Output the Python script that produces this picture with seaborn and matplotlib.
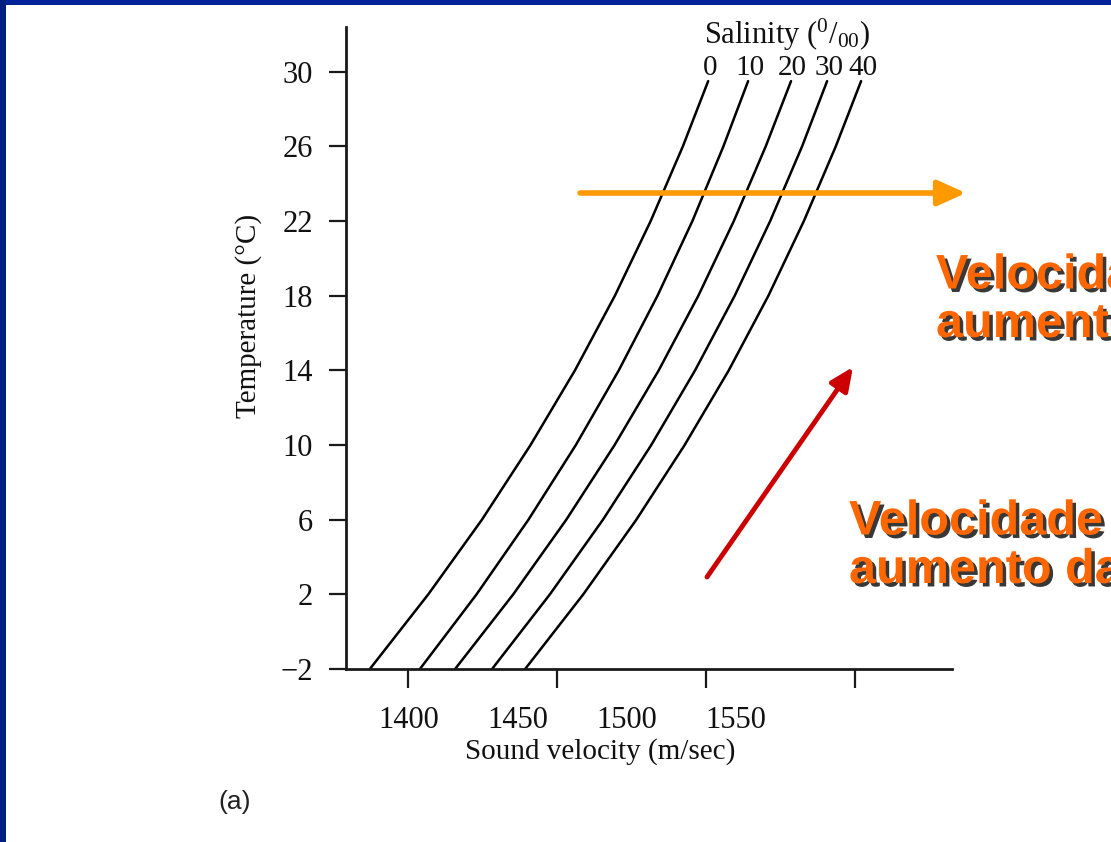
import matplotlib
matplotlib.use("Agg")
import matplotlib.pyplot as plt
import matplotlib.patheffects as pe
from matplotlib.patches import Rectangle, FancyArrowPatch
import pandas as pd
import seaborn as sns

# temperature (deg C) at which each curve was read
temps = [-2, 2, 6, 10, 14, 18, 22, 26, 29.5]

# sound velocity (m/sec)
vel_s0 = [1387.2, 1406.8, 1424.8, 1441.1, 1456.0, 1469.4, 1481.4, 1492.2, 1500.7]
vel_s10 = [1404.0, 1423.0, 1440.4, 1456.3, 1470.7, 1483.7, 1495.4, 1505.8, 1514.1]
vel_s20 = [1415.8, 1435.3, 1453.1, 1469.3, 1484.1, 1497.4, 1509.3, 1520.0, 1528.5]
vel_s30 = [1428.2, 1447.6, 1465.4, 1481.6, 1496.3, 1509.6, 1521.5, 1532.2, 1540.6]
vel_s40 = [1439.3, 1458.8, 1476.6, 1492.8, 1507.6, 1520.9, 1532.8, 1543.5, 1552.0]

salinities = [0, 10, 20, 30, 40]
yticks = [30, 26, 22, 18, 14, 10, 6, 2, -2]
ytick_labels = ["30", "26", "22", "18", "14", "10", "6", "2", "\u22122"]
xticks = [1400, 1450, 1500, 1550]
xtick_labels = ["1400", "1450", "1500", "1550"]

rows = []
for s, vals in zip(salinities, [vel_s0, vel_s10, vel_s20, vel_s30, vel_s40]):
    for t, v in zip(temps, vals):
        rows.append({"salinity": s, "temp": t, "velocity": v})
df = pd.DataFrame(rows)

sns.set_style("white")
plt.rcParams["font.family"] = ["Liberation Serif", "DejaVu Serif"]
plt.rcParams["mathtext.fontset"] = "custom"
plt.rcParams["mathtext.rm"] = "Liberation Serif"

fig = plt.figure(figsize=(11.11, 8.42), dpi=100)
fig.patch.set_facecolor("white")

# slide border
fig.patches.append(Rectangle((0, 1 - 5 / 842), 1, 5 / 842, transform=fig.transFigure,
                             facecolor="#00239a", edgecolor="none", zorder=0))
fig.patches.append(Rectangle((0, 0), 6 / 1111, 1, transform=fig.transFigure,
                             facecolor="#001e80", edgecolor="none", zorder=0))

ax = fig.add_axes([346 / 1111, 1 - 669 / 842, (952 - 346) / 1111, (669 - 27) / 842])

sns.lineplot(data=df, x="velocity", y="temp", hue="salinity",
             palette=["black"] * 5, legend=False, sort=False,
             linewidth=1.8, ax=ax)

ax.set_xlim(1379.2, 1582.5)
ax.set_ylim(-2, 32.4)

for side in ["top", "right"]:
    ax.spines[side].set_visible(False)
for side in ["left", "bottom"]:
    ax.spines[side].set_linewidth(2.0)
    ax.spines[side].set_color("#1a1a1a")

ax.set_yticks(yticks)
ax.set_yticklabels(ytick_labels, fontsize=22)
ax.tick_params(axis="y", direction="out", length=12, width=1.6, pad=12,
               color="#1a1a1a", labelcolor="#111111", left=True)

# tick marks at true positions, labels printed where the original figure has them
ax.set_xticks(xticks)
ax.set_xticklabels([""] * 4)
ax.tick_params(axis="x", which="major", direction="out", length=14, width=1.6,
               color="#1a1a1a", bottom=True)
label_pos = [1400.3, 1436.9, 1473.5, 1510.1]
ax.set_xticks(label_pos, minor=True)
ax.set_xticklabels(xtick_labels, minor=True, fontsize=22)
ax.tick_params(axis="x", which="minor", length=0, pad=27, labelcolor="#111111")

ax.set_xlabel("Sound velocity (m/sec)", fontsize=21, color="#111111")
ax.xaxis.set_label_coords(0.42, -0.108)
ax.set_ylabel("Temperature (\u00b0C)", fontsize=21, color="#111111")
ax.yaxis.set_label_coords(-0.138, 0.55)

# salinity labels above the curves
for s, vals in zip(salinities, [vel_s0, vel_s10, vel_s20, vel_s30, vel_s40]):
    ax.text(vals[-1] + 0.5, 30.2, str(s), fontsize=21, ha="center", va="center",
            clip_on=False, color="#111111")
ax.text(1527, 32.0, "Salinity ($\\mathregular{^0/_{00}}$)", fontsize=22, ha="center",
        va="center", clip_on=False, color="#111111")

# annotation arrows
fig.add_artist(FancyArrowPatch(
    (580 / 1111, 1 - 193 / 842), (966 / 1111, 1 - 193 / 842), transform=fig.transFigure,
    arrowstyle="-|>,head_length=1.0,head_width=0.45", mutation_scale=17,
    color="#ff9900", lw=4, shrinkA=0, shrinkB=0))
fig.add_artist(FancyArrowPatch(
    (707 / 1111, 1 - 577 / 842), (853 / 1111, 1 - 367 / 842), transform=fig.transFigure,
    arrowstyle="-|>,head_length=1.0,head_width=0.45", mutation_scale=14,
    color="#cc0000", lw=3.5, shrinkA=0, shrinkB=0))

shadow = [pe.SimplePatchShadow(offset=(2.5, -2.5), shadow_rgbFace="#151515", alpha=0.85), pe.Normal()]
fig.text(936 / 1111, 1 - 337 / 842, "Velocidade aumenta com\naumento da salinidade",
         fontsize=35, fontweight="bold", color="#ff6600", family="Liberation Sans",
         ha="left", va="baseline", linespacing=1.1, path_effects=shadow)
fig.text(849 / 1111, 1 - 583 / 842, "Velocidade aumenta com\naumento da temperatura",
         fontsize=35, fontweight="bold", color="#ff6600", family="Liberation Sans",
         ha="left", va="baseline", linespacing=1.1, path_effects=shadow)

fig.text(218 / 1111, 1 - 802 / 842, "(a)", fontsize=19, family="Liberation Sans",
         ha="left", va="center", color="#222222")

fig.savefig("out.png", dpi=100)
